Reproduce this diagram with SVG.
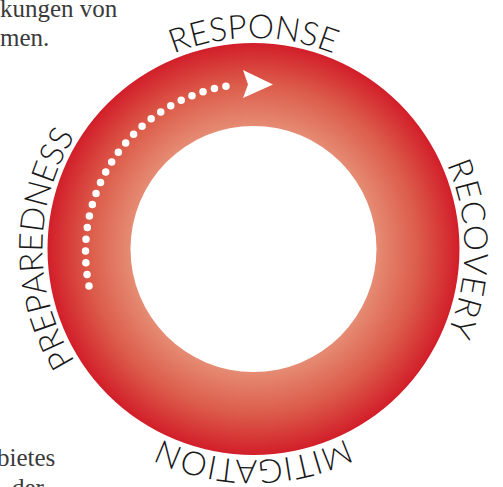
<svg xmlns="http://www.w3.org/2000/svg" width="503" height="487" viewBox="0 0 503 487">
  <defs>
    <radialGradient id="ringGrad" gradientUnits="userSpaceOnUse" cx="253.5" cy="249" r="206">
      <stop offset="0.59" stop-color="#e68d75"/>
      <stop offset="0.8" stop-color="#dc5c4a"/>
      <stop offset="1" stop-color="#d21e29"/>
    </radialGradient>
    <path id="labelCircle" d="M 104.3 398.2 A 211 211 0 1 1 402.7 398.2 A 211 211 0 0 1 104.3 398.2"/>
  </defs>
  <style>
    .lbl { font-family: Lato, "Open Sans", sans-serif; font-size: 33px; font-weight: 300; fill: #1a1a1a; }
    .body { font-family: "Liberation Serif", serif; font-size: 25px; fill: #3a3a3a; }
    .dots { fill: none; stroke: #ffffff; stroke-width: 7.5; stroke-linecap: round; stroke-dasharray: 0 11.75; }
  </style>
  <rect width="503" height="487" fill="#ffffff"/>

  <g id="page-text">
    <text class="body" x="0" y="17">kungen von</text>
    <text class="body" x="0" y="46">men.</text>
    <text class="body" x="-3" y="466">bietes</text>
    <text class="body" x="12" y="496">der</text>
  </g>

  <g id="ring">
    <path d="M 253.5 43 A 206 206 0 1 1 253.5 455 A 206 206 0 1 1 253.5 43 Z M 253.5 126 A 123 123 0 1 0 253.5 372 A 123 123 0 1 0 253.5 126 Z" fill="url(#ringGrad)" fill-rule="evenodd"/>
  </g>

  <g id="connectors">
    <path class="dots" d="M 89 286 A 168 168 0 0 1 235 85"/>
    <polygon points="243,70 273,84.5 243,98 248,84.5" fill="#ffffff"/>
  </g>

  <g id="node-preparedness">
    <text class="lbl" letter-spacing="-0.3"><textPath href="#labelCircle" startOffset="12.5%" text-anchor="middle">PREPAREDNESS</textPath></text>
  </g>
  <g id="node-response">
    <text class="lbl" letter-spacing="0"><textPath href="#labelCircle" startOffset="37.5%" text-anchor="middle">RESPONSE</textPath></text>
  </g>
  <g id="node-recovery">
    <text class="lbl" letter-spacing="1"><textPath href="#labelCircle" startOffset="62.5%" text-anchor="middle">RECOVERY</textPath></text>
  </g>
  <g id="node-mitigation">
    <text class="lbl" letter-spacing="0.3"><textPath href="#labelCircle" startOffset="87.5%" text-anchor="middle">MITIGATION</textPath></text>
  </g>
</svg>
